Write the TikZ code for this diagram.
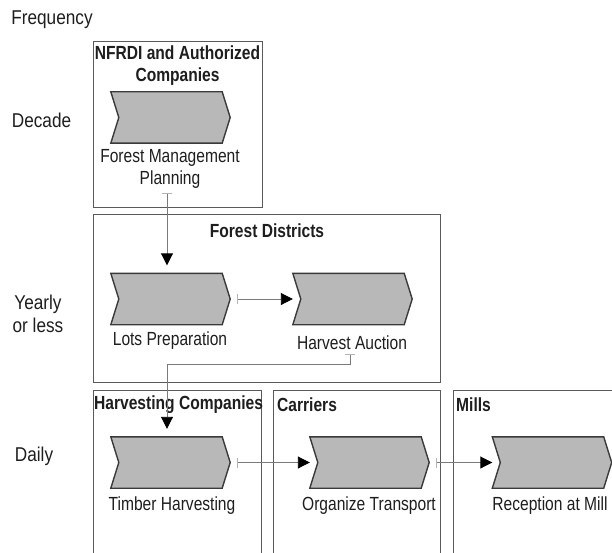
\documentclass[tikz,border=0pt]{standalone}
\usepackage{fontspec}
\setmainfont[FakeStretch=0.82]{Liberation Sans}
\newfontfamily\axisfont[FakeStretch=0.86]{Liberation Sans}
\usetikzlibrary{arrows.meta,calc}

\definecolor{inkc}{HTML}{1E1E1E}
\definecolor{framec}{HTML}{5A5A5A}
\definecolor{chevfill}{HTML}{B8B8B8}
\definecolor{chevline}{HTML}{3A3A3A}
\definecolor{flowc}{HTML}{7A7A7A}
\definecolor{tickc}{HTML}{B4B4B4}

\tikzset{
  txt/.style={font=\fontsize{19}{21.5}\selectfont, text=inkc, inner sep=0pt, align=center},
  axis/.style={font=\axisfont\fontsize{20}{22.5}\selectfont, text=inkc, inner sep=0pt, align=center},
  ttl/.style={font=\fontsize{19}{22}\selectfont\bfseries, text=inkc, inner sep=0pt, align=center},
  lane/.style={draw=framec, line width=0.9pt},
  chevbox/.style={minimum width=119pt, minimum height=51pt, inner sep=0pt},
  chevpath/.style={fill=chevfill, draw=chevline, line width=1.4pt, line join=miter},
  flow/.style={draw=flowc, line width=0.9pt,
    arrows={Bar[width=10pt,color=tickc]-Triangle[length=12pt,width=12pt,color=black]}},
}

% process step drawn as a chevron around a named (invisible) box
\newcommand\chevron[3]{%
  \node[chevbox] (#1) at (#2,#3) {};
  \path[chevpath] (#1.north west) -- ($(#1.north east)+(-8,0)$) -- (#1.east)
    -- ($(#1.south east)+(-8,0)$) -- (#1.south west) -- ($(#1.west)+(8,0)$) -- cycle;
}

\begin{document}
\begin{tikzpicture}[x=1pt,y=-1pt]
\useasboundingbox (0,0) rectangle (612,553);
\clip (0,0) rectangle (612,553);

% frequency axis
\node[axis] (freq) at (52,20) {Frequency};
\node[axis] (decade) at (41.5,120) {Decade};
\node[axis] (yearly) at (38,314) {Yearly\\or less};
\node[axis] (daily) at (34,456) {Daily};

% responsibility lanes
\draw[lane] (93,41) rectangle (262,207);
\draw[lane] (93,214) rectangle (440,382);
\draw[lane] (93,560) -- (93,390) -- (261,390) -- (261,560);
\draw[lane] (273,560) -- (273,390) -- (440,390) -- (440,560);
\draw[lane] (453,560) -- (453,390) -- (620,390);

\node[ttl] (tnfrdi) at (177.5,66) {NFRDI and Authorized\\Companies};
\node[ttl] (tdist) at (267,231) {Forest Districts};
\node[ttl, anchor=west] (tharv) at (94,405) {Harvesting Companies};
\node[ttl, anchor=west] (tcarr) at (277,405) {Carriers};
\node[ttl, anchor=west] (tmill) at (456,405) {Mills};

% process steps
\chevron{fm}{170.5}{117.5}
\chevron{lots}{170.5}{299}
\chevron{auction}{352.5}{299}
\chevron{timber}{170.5}{462.5}
\chevron{transport}{369.5}{462.5}
\chevron{reception}{552}{462.5}

\node[txt] (fmlab) at (170,169) {Forest Management\\Planning};
\node[txt] (lotslab) at (170,341) {Lots Preparation};
\node[txt] (auclab) at (352,343) {Harvest Auction};
\node[txt] (timlab) at (172,506) {Timber Harvesting};
\node[txt] (tralab) at (369,506) {Organize Transport};
\node[txt] (reclab) at (550,506) {Reception at Mill};

% control flow
\draw[flow, shorten >=8pt] ($(fmlab.south -| 167,0)+(0,5)$) -- (lots.north -| 167,0);
\draw[flow, shorten <=7pt] (lots.east) -- (auction.west);
\draw[flow, shorten >=8pt] ($(auclab.south -| 350,0)+(0,4)$) -- ++(0,10) -| (timber.north -| 167,0);
\draw[flow, shorten <=7pt] (timber.east) -- (transport.west);
\draw[flow, shorten <=7pt] (transport.east) -- (reception.west);
\end{tikzpicture}
\end{document}
